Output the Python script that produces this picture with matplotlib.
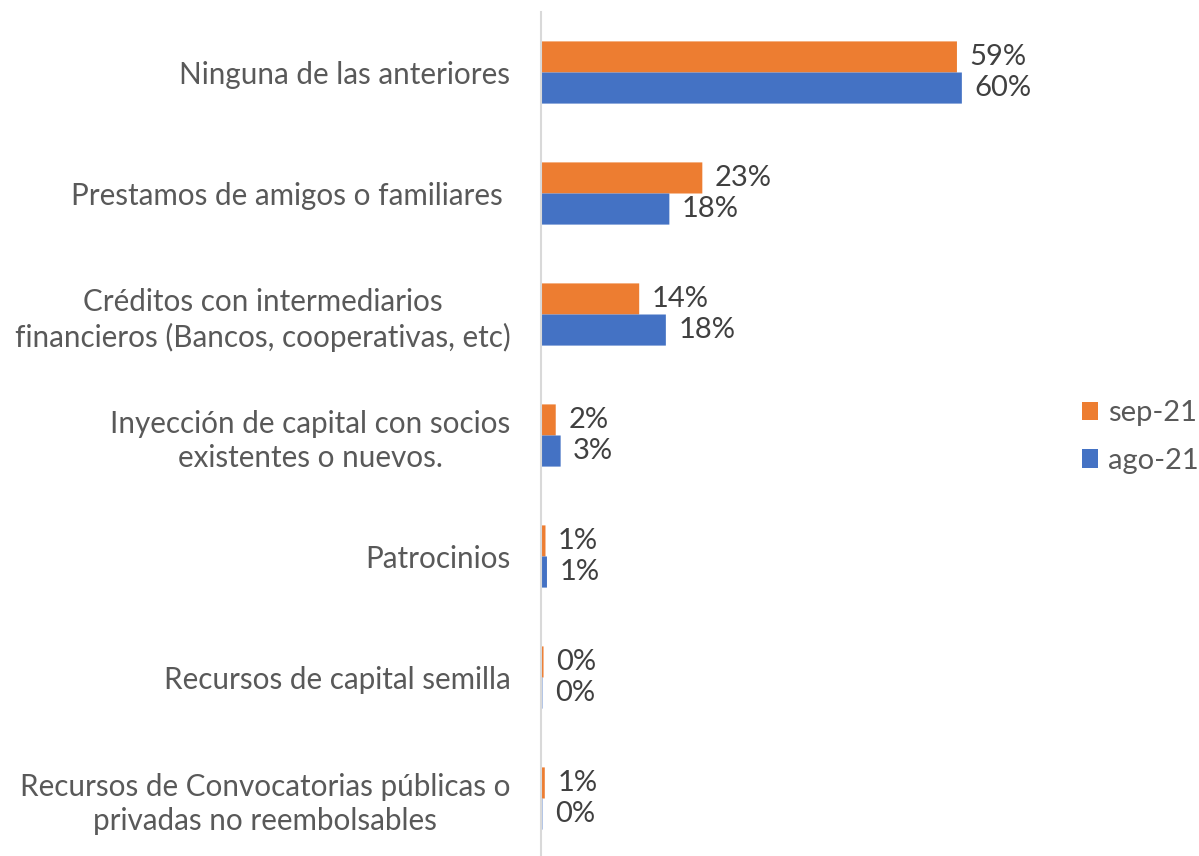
import numpy as np
import matplotlib.pyplot as plt

plt.rcParams['font.family'] = ['Lato', 'DejaVu Sans']

categorias = [
    'Ninguna de las anteriores',
    'Prestamos de amigos o familiares ',
    'Créditos con intermediarios\nfinancieros (Bancos, cooperativas, etc)',
    'Inyección de capital con socios\nexistentes o nuevos.',
    'Patrocinios',
    'Recursos de capital semilla',
    'Recursos de Convocatorias públicas o\nprivadas no reembolsables',
]
sep21 = [59.3, 23.0, 14.0, 2.1, 0.64, 0.36, 0.54]
ago21 = [60.0, 18.3, 17.8, 2.8, 0.85, 0.2, 0.2]

naranja = '#ED7D31'
azul = '#4472C4'
gris = '#595959'

fig = plt.figure(figsize=(11.99, 8.56), dpi=100)
ax = fig.add_axes([541 / 1199, -3 / 856, 491 / 1199, 847 / 856])

y = np.arange(len(categorias))
h = 0.257
b1 = ax.barh(y - h / 2, sep21, height=h, color=naranja, label='sep-21', snap=False)
b2 = ax.barh(y + h / 2, ago21, height=h, color=azul, label='ago-21', snap=False)

for barras, vals in [(b1, sep21), (b2, ago21)]:
    for r, v in zip(barras, vals):
        ax.annotate(f'{round(v):.0f}%', (r.get_width(), r.get_y() + r.get_height() / 2),
                    xytext=(9, 0), textcoords='offset points', va='center', ha='left',
                    fontsize=21, color='#404040')

ax.set_ylim(len(categorias) - 0.5, -0.5)
ax.set_xlim(0, 70)
ax.set_yticks(y)
ax.set_yticklabels(categorias, fontsize=21.3, color=gris)
for t in ax.get_yticklabels():
    t.set_multialignment('center')
    t.set_linespacing(1.25)
ax.tick_params(axis='y', length=0, pad=22)
ax.set_xticks([])
for s in ['top', 'right', 'bottom']:
    ax.spines[s].set_visible(False)
ax.spines['left'].set_color('#D9D9D9')
ax.spines['left'].set_linewidth(1.5)

fig.legend(handles=[b1, b2], loc='center left', bbox_to_anchor=(1082 / 1199, 1 - 437 / 856),
           frameon=False, fontsize=21, labelcolor=gris, handlelength=0.55, handleheight=0.6,
           handletextpad=0.35, labelspacing=0.75, borderpad=0, borderaxespad=0)

fig.savefig('out.png', dpi=100)
